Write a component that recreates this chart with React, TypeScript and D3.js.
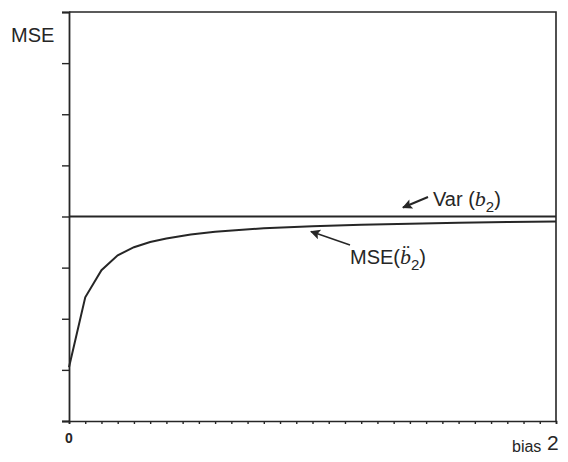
import React, { useEffect, useRef } from 'react';
import * as d3 from 'd3';

// bias values (x) and MSE of the estimator
const biasValues = [0, 0.0667, 0.1333, 0.2, 0.2667, 0.3333, 0.4, 0.5, 0.6, 0.8, 1.0, 1.2, 1.4, 1.6, 1.8, 2.0];
const mseValues = [1.05, 2.42, 2.95, 3.24, 3.4, 3.5, 3.57, 3.65, 3.7, 3.77, 3.81, 3.84, 3.86, 3.88, 3.89, 3.9];
const varValue = 4;
const yTicks = [0, 1, 2, 3, 4, 5, 6, 7, 8];
const xTicks = d3.range(0, 31).map(i => i / 15);

const App = () => {
  const svgRef = useRef<SVGSVGElement>(null);

  useEffect(() => {
    const svg = d3.select(svgRef.current);
    svg.selectAll("*").remove();

    const width = 568;
    const height = 462;
    const left = 69, right = 556, top = 12, bottom = 421;
    const ink = "#262626";
    const sans = "'Liberation Sans', Arial, sans-serif";
    const serif = "'Liberation Serif', 'Times New Roman', serif";

    svg.attr("width", width).attr("height", height);

    const x = d3.scaleLinear().domain([0, 2]).range([left, right]);
    const y = d3.scaleLinear().domain([0, 8]).range([bottom, top]);

    // frame: top and right edges
    svg.append("path")
      .attr("d", `M${left},${top}H${right}V${bottom}`)
      .attr("fill", "none")
      .attr("stroke", ink)
      .attr("stroke-width", 1.6);

    const yAxis = svg.append("g")
      .attr("transform", `translate(${left},0)`)
      .call(d3.axisLeft(y).tickValues(yTicks).tickSize(7).tickFormat(() => ""));
    yAxis.select(".domain").attr("stroke", ink).attr("stroke-width", 1.8);
    yAxis.selectAll(".tick line").attr("stroke", ink).attr("stroke-width", 1.4);

    const xAxis = svg.append("g")
      .attr("transform", `translate(0,${bottom})`)
      .call(d3.axisBottom(x).tickValues(xTicks).tickSize(3).tickFormat(() => ""));
    xAxis.select(".domain").attr("stroke", ink).attr("stroke-width", 1.6);
    xAxis.selectAll(".tick line").attr("stroke", ink).attr("stroke-width", 1.4);

    // variance line
    svg.append("line")
      .attr("x1", x(0)).attr("x2", x(2))
      .attr("y1", y(varValue)).attr("y2", y(varValue))
      .attr("stroke", ink)
      .attr("stroke-width", 1.8);

    // MSE curve
    const line = d3.line<number>()
      .x((d, i) => x(biasValues[i]))
      .y(d => y(d));
    svg.append("path")
      .datum(mseValues)
      .attr("d", line)
      .attr("fill", "none")
      .attr("stroke", ink)
      .attr("stroke-width", 2);

    // arrowheads
    const defs = svg.append("defs");
    defs.append("marker")
      .attr("id", "head")
      .attr("viewBox", "0 0 10 10")
      .attr("refX", 9).attr("refY", 5)
      .attr("markerWidth", 16).attr("markerHeight", 10)
      .attr("markerUnits", "userSpaceOnUse")
      .attr("orient", "auto")
      .append("path")
      .attr("d", "M0,0L10,5L0,10L2,5Z")
      .attr("fill", ink);

    svg.append("line")
      .attr("x1", 428).attr("y1", 197)
      .attr("x2", 403).attr("y2", 207.5)
      .attr("stroke", ink).attr("stroke-width", 2)
      .attr("marker-end", "url(#head)");

    svg.append("line")
      .attr("x1", 350).attr("y1", 245)
      .attr("x2", 311).attr("y2", 231.5)
      .attr("stroke", ink).attr("stroke-width", 1.5)
      .attr("marker-end", "url(#head)");

    // labels
    svg.append("text")
      .attr("x", 11).attr("y", 42)
      .style("font-family", sans).style("font-size", "20px").style("fill", ink)
      .text("MSE");

    const varLabel = svg.append("text")
      .attr("x", 433).attr("y", 206)
      .style("font-family", sans).style("font-size", "20px").style("fill", ink);
    varLabel.append("tspan").text("Var (");
    varLabel.append("tspan").style("font-family", serif).style("font-style", "italic").style("font-size", "22px").text("b");
    varLabel.append("tspan").attr("dy", 6).style("font-size", "15px").text("2");
    varLabel.append("tspan").attr("dy", -6).text(")");

    const mseLabel = svg.append("text")
      .attr("x", 350).attr("y", 264)
      .style("font-family", sans).style("font-size", "20px").style("fill", ink);
    mseLabel.append("tspan").text("MSE(");
    mseLabel.append("tspan").style("font-family", serif).style("font-style", "italic").style("font-size", "22px").text("b\u0308");
    mseLabel.append("tspan").attr("dy", 6).style("font-size", "15px").text("2");
    mseLabel.append("tspan").attr("dy", -6).text(")");

    svg.append("text")
      .attr("x", x(0)).attr("y", 443)
      .attr("text-anchor", "middle")
      .style("font-family", sans).style("font-size", "14px").style("font-weight", "bold").style("fill", ink)
      .text("0");

    svg.append("text")
      .attr("x", 512).attr("y", 452)
      .style("font-family", sans).style("font-size", "16px").style("fill", ink)
      .text("bias");

    svg.append("text")
      .attr("x", 547).attr("y", 450)
      .style("font-family", sans).style("font-size", "21px").style("fill", ink)
      .text("2");
  }, []);

  return <svg ref={svgRef} style={{ position: "absolute", left: 0, top: 0, background: "#fff" }}></svg>;
};

export default App;
